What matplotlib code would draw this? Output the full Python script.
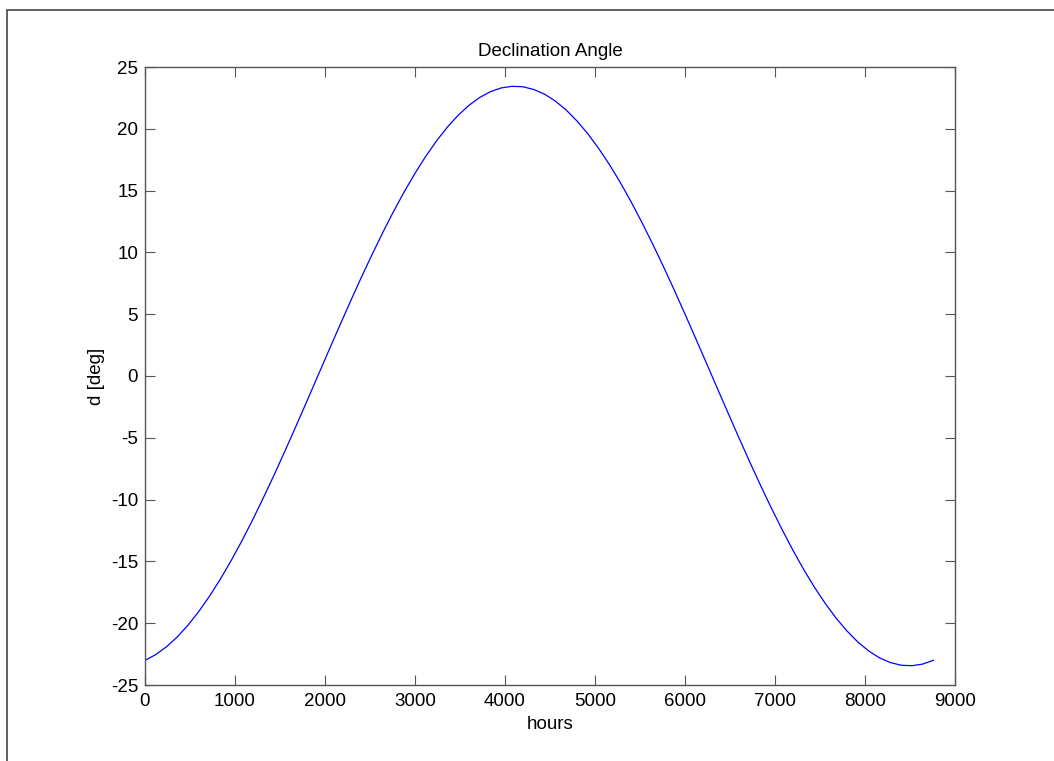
import numpy as np
import matplotlib
matplotlib.use('Agg')
import matplotlib.pyplot as plt
from matplotlib.patches import Rectangle

hours = list(range(0, 8641, 120)) + [8760]
decl = [-23.01, -22.54, -21.90, -21.10, -20.14, -19.03, -17.78, -16.40,
        -14.90, -13.29, -11.58, -9.78, -7.92, -5.99, -4.02, -2.02, 0.00,
        2.02, 4.02, 5.99, 7.92, 9.78, 11.58, 13.29, 14.90, 16.40, 17.78,
        19.03, 20.14, 21.10, 21.90, 22.54, 23.01, 23.31, 23.44, 23.40,
        23.18, 22.80, 22.24, 21.52, 20.63, 19.60, 18.42, 17.11, 15.67,
        14.11, 12.44, 10.69, 8.86, 6.96, 5.01, 3.02, 1.01, -1.01, -3.02,
        -5.01, -6.96, -8.86, -10.69, -12.44, -14.11, -15.67, -17.11, -18.42,
        -19.60, -20.63, -21.52, -22.24, -22.80, -23.18, -23.40, -23.44,
        -23.31, -23.0]

plt.rcParams['font.family'] = ['Liberation Sans', 'DejaVu Sans']
plt.rcParams['axes.unicode_minus'] = False

fig = plt.figure(figsize=(10.54, 7.61), dpi=100)
# frame of the original window, partly cut off
fig.patches.append(Rectangle((7/1054, -0.1), 1.2, 1 - 10/761 + 0.1,
                             transform=fig.transFigure, fill=False,
                             edgecolor='#444444', linewidth=1.2))
ax = fig.add_axes([145/1054, 1 - 685/761, 810/1054, 618/761])

ax.plot(hours, decl, color='#0000ff', linewidth=0.9)

ax.set_xlim(0, 9000)
ax.set_ylim(-25, 25)
ax.set_xticks(np.arange(0, 9001, 1000))
ax.set_yticks(np.arange(-25, 26, 5))
ax.tick_params(direction='in', top=True, right=True, length=7,
               labelsize=13.5, color='#555555')
ax.tick_params(axis='x', pad=6)
ax.tick_params(axis='y', pad=5)
for s in ax.spines.values():
    s.set_color('#555555')
    s.set_linewidth(1.0)

ax.set_title('Declination Angle', fontsize=13.5, pad=8)
ax.set_xlabel('hours', fontsize=13.5, labelpad=4)
ax.set_ylabel('d [deg]', fontsize=13.5, labelpad=4)

plt.savefig('out.png', dpi=100)
